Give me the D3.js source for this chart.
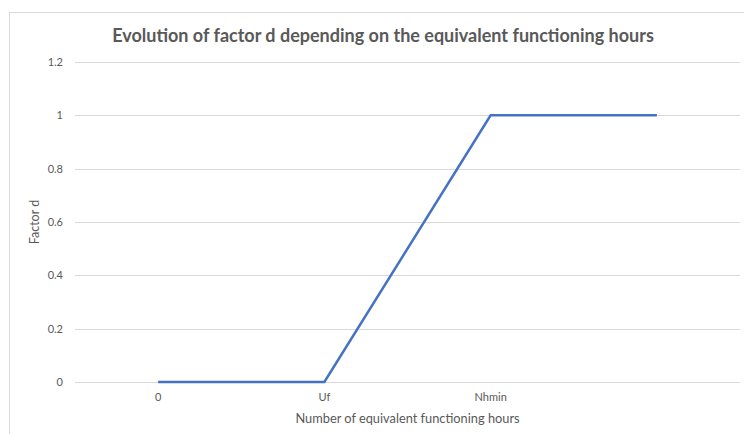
<!DOCTYPE html>
<html>
<head>
<meta charset="utf-8">
<script src="https://cdn.jsdelivr.net/npm/d3@7"></script>
<style>
  body { margin: 0; background: #fff; }
  text { font-family: Lato, "Open Sans", sans-serif; fill: #595959; }
</style>
</head>
<body>
<div id="chart"></div>
<script>
// data
const categories = ["0", "Uf", "Nhmin", ""];
const factorD = [0, 0, 1, 1];
const yTicks = [0, 0.2, 0.4, 0.6, 0.8, 1, 1.2];

const width = 744, height = 434;
const plotLeft = 75, plotRight = 740, plotTop = 62, plotBottom = 382;

const svg = d3.select("#chart").append("svg")
  .attr("width", width)
  .attr("height", height);

// chart area border (only left and top visible in the crop)
svg.append("rect")
  .attr("x", 9.5).attr("y", 12.5)
  .attr("width", 800).attr("height", 500)
  .attr("fill", "#fff")
  .attr("stroke", "#d9d9d9");

const x = d3.scaleBand().domain(categories).range([plotLeft, plotRight]);
const y = d3.scaleLinear().domain([0, 1.2]).range([plotBottom, plotTop]);

// gridlines
svg.append("g").selectAll("line").data(yTicks).join("line")
  .attr("x1", plotLeft).attr("x2", plotRight)
  .attr("y1", d => Math.round(y(d)) + 0.5).attr("y2", d => Math.round(y(d)) + 0.5)
  .attr("stroke", "#d9d9d9");

// y tick labels
svg.append("g").selectAll("text").data(yTicks).join("text")
  .attr("x", 63).attr("y", d => y(d))
  .attr("dy", "0.35em")
  .attr("text-anchor", "end")
  .attr("font-size", 11)
  .text(d => d);

// x tick labels
svg.append("g").selectAll("text").data(categories).join("text")
  .attr("x", d => x(d) + x.bandwidth() / 2)
  .attr("y", 397)
  .attr("dy", "0.35em")
  .attr("text-anchor", "middle")
  .attr("font-size", 11)
  .text(d => d);

// line
const line = d3.line()
  .x((d, i) => x(categories[i]) + x.bandwidth() / 2)
  .y(d => y(d));

svg.append("path")
  .datum(factorD)
  .attr("d", line)
  .attr("fill", "none")
  .attr("stroke", "#4472c4")
  .attr("stroke-width", 2.5);

// title
svg.append("text")
  .attr("x", 383).attr("y", 36)
  .attr("dy", "0.35em")
  .attr("text-anchor", "middle")
  .attr("font-size", 18)
  .attr("font-weight", "bold")
  .text("Evolution of factor d depending on the equivalent functioning hours");

// axis titles
svg.append("text")
  .attr("x", (plotLeft + plotRight) / 2).attr("y", 419)
  .attr("dy", "0.35em")
  .attr("text-anchor", "middle")
  .attr("font-size", 12.8)
  .text("Number of equivalent functioning hours");

svg.append("text")
  .attr("transform", `translate(35,${(plotTop + plotBottom) / 2}) rotate(-90)`)
  .attr("dy", "0.35em")
  .attr("text-anchor", "middle")
  .attr("font-size", 12.5)
  .text("Factor d");
</script>
</body>
</html>
